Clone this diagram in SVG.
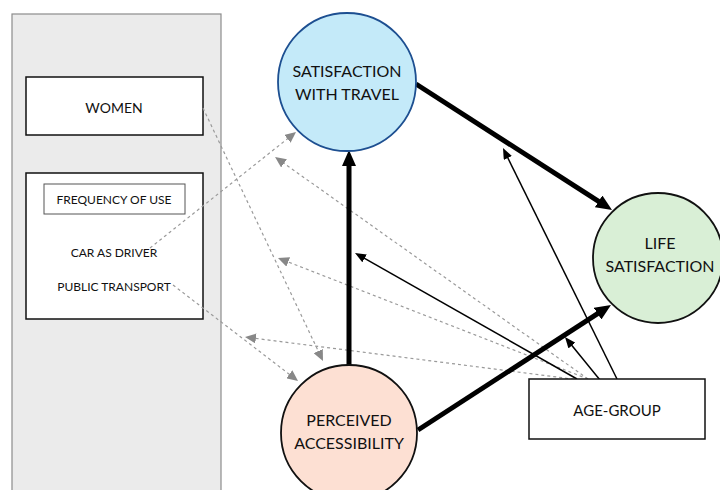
<svg xmlns="http://www.w3.org/2000/svg" width="720" height="490" viewBox="0 0 720 490">
<style>
text{font-family:Lato,"Liberation Sans",sans-serif;fill:#111;text-anchor:middle;dominant-baseline:central}
.box{fill:#fff;stroke:#111;stroke-width:1.5}
.thick{stroke:#000;stroke-width:5;fill:none}
.thin{stroke:#000;stroke-width:1.5;fill:none}
.dash{stroke:#9a9a9a;stroke-width:1.2;stroke-dasharray:3 3;fill:none}
</style>
<defs>
<marker id="hThick" markerUnits="userSpaceOnUse" viewBox="0 0 16 14" markerWidth="16" markerHeight="14" refX="1" refY="7" orient="auto"><path d="M0,0 L16,7 L0,14 z" fill="#000"/></marker>
<marker id="hThin" markerUnits="userSpaceOnUse" viewBox="0 0 11 9" markerWidth="11" markerHeight="9" refX="1" refY="4.5" orient="auto"><path d="M0,0 L11,4.5 L0,9 z" fill="#000"/></marker>
<marker id="hDash" markerUnits="userSpaceOnUse" viewBox="0 0 11 10" markerWidth="11" markerHeight="10" refX="1" refY="5" orient="auto"><path d="M0,0 L11,5 L0,10 z" fill="#888"/></marker>
</defs>
<g id="panel"><rect x="12" y="14" width="209" height="490" fill="#ebebeb" stroke="#8c8c8c" stroke-width="1.2"/></g>
<g id="women"><rect class="box" x="26" y="77" width="177" height="58"/><text x="114" y="107" font-size="14">WOMEN</text></g>
<g id="frequency"><rect class="box" x="26" y="173" width="177" height="146"/>
<rect x="44" y="184" width="141" height="30" fill="#fff" stroke="#555" stroke-width="1"/>
<text x="114" y="199" font-size="12">FREQUENCY OF USE</text>
<text x="114" y="252" font-size="12">CAR AS DRIVER</text>
<text x="114" y="286" font-size="12">PUBLIC TRANSPORT</text></g>
<g id="connectors">
<line class="dash" x1="203" y1="108" x2="318.7" y2="352" marker-end="url(#hDash)"/>
<line class="dash" x1="150" y1="248" x2="288.2" y2="138.2" marker-end="url(#hDash)"/>
<line class="dash" x1="173" y1="285" x2="290.1" y2="374.9" marker-end="url(#hDash)"/>
<line class="dash" x1="588" y1="379" x2="283.2" y2="162.8" marker-end="url(#hDash)"/>
<line class="dash" x1="588" y1="379" x2="287.3" y2="261.6" marker-end="url(#hDash)"/>
<line class="dash" x1="580" y1="380" x2="254.9" y2="338.3" marker-end="url(#hDash)"/>
<line class="thick" x1="349" y1="365" x2="349" y2="165" marker-end="url(#hThick)"/>
<line class="thick" x1="416" y1="84" x2="599.4" y2="201.9" marker-end="url(#hThick)"/>
<line class="thick" x1="418" y1="430" x2="598.4" y2="313.1" marker-end="url(#hThick)"/>
<line class="thin" x1="577" y1="379" x2="363.7" y2="257.9" marker-end="url(#hThin)"/>
<line class="thin" x1="600" y1="380" x2="571.3" y2="344.8" marker-end="url(#hThin)"/>
<line class="thin" x1="617" y1="379" x2="507.4" y2="157" marker-end="url(#hThin)"/>
</g>
<g id="satisfaction-travel"><circle cx="347" cy="82" r="69" fill="#c4eaf9" stroke="#1d4f91" stroke-width="1.8"/>
<text x="347" y="70" font-size="16">SATISFACTION</text><text x="347" y="93" font-size="16">WITH TRAVEL</text></g>
<g id="life-satisfaction"><circle cx="658" cy="258" r="65" fill="#d9efd6" stroke="#111" stroke-width="1.8"/>
<text x="660" y="242" font-size="16">LIFE</text><text x="660" y="265" font-size="16">SATISFACTION</text></g>
<g id="perceived-accessibility"><circle cx="349" cy="433" r="68" fill="#fde0d3" stroke="#111" stroke-width="1.8"/>
<text x="349" y="419" font-size="16">PERCEIVED</text><text x="349" y="442" font-size="16">ACCESSIBILITY</text></g>
<g id="age-group"><rect class="box" x="529" y="379" width="176" height="60"/><text x="617" y="410" font-size="15">AGE-GROUP</text></g>
</svg>
